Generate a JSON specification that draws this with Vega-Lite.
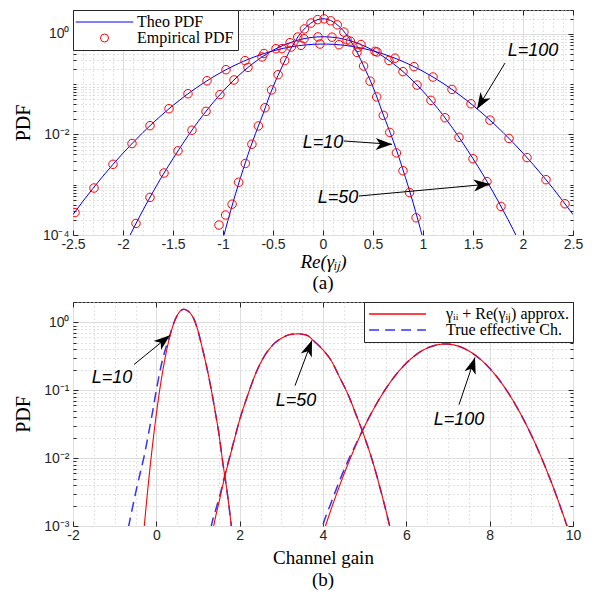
{
"$schema": "https://vega.github.io/schema/vega-lite/v6.json",
"padding": {"left": 12, "top": 2, "right": 0, "bottom": 0},
"bounds": "flush",
"spacing": 67,
"config": {
  "view": {"stroke": "#262626", "strokeWidth": 1},
  "axis": {"domain": false, "labelFont": "Liberation Sans", "labelFontSize": 14, "labelColor": "#262626", "tickColor": "#262626", "tickWidth": 1, "titleColor": "#000000", "titleFontWeight": "normal"}
},
"datasets": {
  "theoA": [
    {"L":100,"x":-2.5,"y":0.000255},{"L":100,"x":-2.4,"y":0.000471},{"L":100,"x":-2.3,"y":0.000847},{"L":100,"x":-2.2,"y":0.001487},{"L":100,"x":-2.1,"y":0.002545},{"L":100,"x":-2.0,"y":0.00425},{"L":100,"x":-1.9,"y":0.00692},{"L":100,"x":-1.8,"y":0.01099},{"L":100,"x":-1.7,"y":0.01702},{"L":100,"x":-1.6,"y":0.02571},{"L":100,"x":-1.5,"y":0.03788},{"L":100,"x":-1.4,"y":0.05443},{"L":100,"x":-1.3,"y":0.0763},{"L":100,"x":-1.2,"y":0.1043},{"L":100,"x":-1.1,"y":0.139},{"L":100,"x":-1.0,"y":0.1807},{"L":100,"x":-0.9,"y":0.2292},{"L":100,"x":-0.8,"y":0.2834},{"L":100,"x":-0.7,"y":0.3419},{"L":100,"x":-0.6,"y":0.4022},{"L":100,"x":-0.5,"y":0.4615},{"L":100,"x":-0.4,"y":0.516},{"L":100,"x":-0.3,"y":0.564},{"L":100,"x":-0.2,"y":0.6},{"L":100,"x":-0.1,"y":0.623},{"L":100,"x":0,"y":0.631},
    {"L":100,"x":0.1,"y":0.623},{"L":100,"x":0.2,"y":0.6},{"L":100,"x":0.3,"y":0.564},{"L":100,"x":0.4,"y":0.516},{"L":100,"x":0.5,"y":0.4615},{"L":100,"x":0.6,"y":0.4022},{"L":100,"x":0.7,"y":0.3419},{"L":100,"x":0.8,"y":0.2834},{"L":100,"x":0.9,"y":0.2292},{"L":100,"x":1.0,"y":0.1807},{"L":100,"x":1.1,"y":0.139},{"L":100,"x":1.2,"y":0.1043},{"L":100,"x":1.3,"y":0.0763},{"L":100,"x":1.4,"y":0.05443},{"L":100,"x":1.5,"y":0.03788},{"L":100,"x":1.6,"y":0.02571},{"L":100,"x":1.7,"y":0.01702},{"L":100,"x":1.8,"y":0.01099},{"L":100,"x":1.9,"y":0.00692},{"L":100,"x":2.0,"y":0.00425},{"L":100,"x":2.1,"y":0.002545},{"L":100,"x":2.2,"y":0.001487},{"L":100,"x":2.3,"y":0.000847},{"L":100,"x":2.4,"y":0.000471},{"L":100,"x":2.5,"y":0.000255},
    {"L":50,"x":-2.0,"y":0.0000515},{"L":50,"x":-1.9,"y":0.00013},{"L":50,"x":-1.8,"y":0.000312},{"L":50,"x":-1.7,"y":0.00072},{"L":50,"x":-1.6,"y":0.001584},{"L":50,"x":-1.5,"y":0.0033},{"L":50,"x":-1.4,"y":0.00668},{"L":50,"x":-1.3,"y":0.01305},{"L":50,"x":-1.2,"y":0.02425},{"L":50,"x":-1.1,"y":0.0429},{"L":50,"x":-1.0,"y":0.0724},{"L":50,"x":-0.9,"y":0.1163},{"L":50,"x":-0.8,"y":0.178},{"L":50,"x":-0.7,"y":0.259},{"L":50,"x":-0.6,"y":0.359},{"L":50,"x":-0.5,"y":0.474},{"L":50,"x":-0.4,"y":0.592},{"L":50,"x":-0.3,"y":0.704},{"L":50,"x":-0.2,"y":0.799},{"L":50,"x":-0.1,"y":0.8595},{"L":50,"x":0,"y":0.881},
    {"L":50,"x":0.1,"y":0.8595},{"L":50,"x":0.2,"y":0.799},{"L":50,"x":0.3,"y":0.704},{"L":50,"x":0.4,"y":0.592},{"L":50,"x":0.5,"y":0.474},{"L":50,"x":0.6,"y":0.359},{"L":50,"x":0.7,"y":0.259},{"L":50,"x":0.8,"y":0.178},{"L":50,"x":0.9,"y":0.1163},{"L":50,"x":1.0,"y":0.0724},{"L":50,"x":1.1,"y":0.0429},{"L":50,"x":1.2,"y":0.02425},{"L":50,"x":1.3,"y":0.01305},{"L":50,"x":1.4,"y":0.00668},{"L":50,"x":1.5,"y":0.0033},{"L":50,"x":1.6,"y":0.001584},{"L":50,"x":1.7,"y":0.00072},{"L":50,"x":1.8,"y":0.000312},{"L":50,"x":1.9,"y":0.00013},{"L":50,"x":2.0,"y":0.0000515},
    {"L":10,"x":-1.05,"y":0.000034},{"L":10,"x":-1.0,"y":0.000084},{"L":10,"x":-0.95,"y":0.000197},{"L":10,"x":-0.9,"y":0.000444},{"L":10,"x":-0.85,"y":0.000957},{"L":10,"x":-0.8,"y":0.00198},{"L":10,"x":-0.75,"y":0.00399},{"L":10,"x":-0.7,"y":0.00767},{"L":10,"x":-0.65,"y":0.01412},{"L":10,"x":-0.6,"y":0.0255},{"L":10,"x":-0.55,"y":0.0486},{"L":10,"x":-0.5,"y":0.0877},{"L":10,"x":-0.45,"y":0.15},{"L":10,"x":-0.4,"y":0.244},{"L":10,"x":-0.35,"y":0.398},{"L":10,"x":-0.3,"y":0.608},{"L":10,"x":-0.25,"y":0.881},{"L":10,"x":-0.2,"y":1.18},{"L":10,"x":-0.15,"y":1.48},{"L":10,"x":-0.1,"y":1.75},{"L":10,"x":-0.05,"y":1.934},{"L":10,"x":0,"y":2.01},
    {"L":10,"x":0.05,"y":1.934},{"L":10,"x":0.1,"y":1.75},{"L":10,"x":0.15,"y":1.48},{"L":10,"x":0.2,"y":1.18},{"L":10,"x":0.25,"y":0.881},{"L":10,"x":0.3,"y":0.608},{"L":10,"x":0.35,"y":0.398},{"L":10,"x":0.4,"y":0.244},{"L":10,"x":0.45,"y":0.15},{"L":10,"x":0.5,"y":0.0877},{"L":10,"x":0.55,"y":0.0486},{"L":10,"x":0.6,"y":0.0255},{"L":10,"x":0.65,"y":0.01412},{"L":10,"x":0.7,"y":0.00767},{"L":10,"x":0.75,"y":0.00399},{"L":10,"x":0.8,"y":0.00198},{"L":10,"x":0.85,"y":0.000957},{"L":10,"x":0.9,"y":0.000444},{"L":10,"x":0.95,"y":0.000197},{"L":10,"x":1.0,"y":0.000084},{"L":10,"x":1.05,"y":0.000034}
  ],
  "empA": [
    {"L":100,"x":-2.48,"y":0.00028},{"L":100,"x":-2.29,"y":0.00086},{"L":100,"x":-2.1,"y":0.00255},{"L":100,"x":-1.91,"y":0.0066},{"L":100,"x":-1.73,"y":0.01497},{"L":100,"x":-1.54,"y":0.03253},{"L":100,"x":-1.35,"y":0.0647},{"L":100,"x":-1.16,"y":0.1173},{"L":100,"x":-0.97,"y":0.1946},{"L":100,"x":-0.78,"y":0.2949},{"L":100,"x":-0.59,"y":0.4083},{"L":100,"x":-0.41,"y":0.5113},{"L":100,"x":-0.22,"y":0.5938},{"L":100,"x":-0.03,"y":0.63},{"L":100,"x":0.16,"y":0.611},{"L":100,"x":0.35,"y":0.541},{"L":100,"x":0.54,"y":0.438},{"L":100,"x":0.72,"y":0.33},{"L":100,"x":0.91,"y":0.224},{"L":100,"x":1.1,"y":0.139},{"L":100,"x":1.29,"y":0.0788},{"L":100,"x":1.48,"y":0.0408},{"L":100,"x":1.67,"y":0.0193},{"L":100,"x":1.86,"y":0.00835},{"L":100,"x":2.04,"y":0.00347},{"L":100,"x":2.23,"y":0.00126},{"L":100,"x":2.42,"y":0.000418},
    {"L":50,"x":-1.87,"y":0.00017},{"L":50,"x":-1.73,"y":0.00056},{"L":50,"x":-1.59,"y":0.00171},{"L":50,"x":-1.45,"y":0.00473},{"L":50,"x":-1.31,"y":0.01217},{"L":50,"x":-1.17,"y":0.02884},{"L":50,"x":-1.03,"y":0.0624},{"L":50,"x":-0.89,"y":0.1214},{"L":50,"x":-0.75,"y":0.2163},{"L":50,"x":-0.61,"y":0.3486},{"L":50,"x":-0.47,"y":0.509},{"L":50,"x":-0.33,"y":0.673},{"L":50,"x":-0.19,"y":0.806},{"L":50,"x":-0.05,"y":0.875},{"L":50,"x":0.09,"y":0.8635},{"L":50,"x":0.24,"y":0.765},{"L":50,"x":0.38,"y":0.616},{"L":50,"x":0.52,"y":0.451},{"L":50,"x":0.66,"y":0.297},{"L":50,"x":0.8,"y":0.178},{"L":50,"x":0.94,"y":0.0962},{"L":50,"x":1.08,"y":0.0478},{"L":50,"x":1.22,"y":0.02156},{"L":50,"x":1.36,"y":0.00879},{"L":50,"x":1.5,"y":0.00329},{"L":50,"x":1.64,"y":0.001155},{"L":50,"x":1.78,"y":0.00037},
    {"L":10,"x":-1.04,"y":0.000158},{"L":10,"x":-0.974,"y":0.00025},{"L":10,"x":-0.909,"y":0.00041},{"L":10,"x":-0.843,"y":0.00112},{"L":10,"x":-0.777,"y":0.00265},{"L":10,"x":-0.711,"y":0.0064},{"L":10,"x":-0.646,"y":0.0148},{"L":10,"x":-0.58,"y":0.034},{"L":10,"x":-0.514,"y":0.077},{"L":10,"x":-0.449,"y":0.155},{"L":10,"x":-0.383,"y":0.295},{"L":10,"x":-0.317,"y":0.55},{"L":10,"x":-0.252,"y":0.87},{"L":10,"x":-0.186,"y":1.26},{"L":10,"x":-0.12,"y":1.65},{"L":10,"x":-0.054,"y":1.93},{"L":10,"x":0.011,"y":2.0},{"L":10,"x":0.077,"y":1.83},{"L":10,"x":0.143,"y":1.52},{"L":10,"x":0.209,"y":1.09},{"L":10,"x":0.274,"y":0.72},{"L":10,"x":0.34,"y":0.43},{"L":10,"x":0.406,"y":0.23},{"L":10,"x":0.471,"y":0.115},{"L":10,"x":0.537,"y":0.056},{"L":10,"x":0.603,"y":0.024},{"L":10,"x":0.668,"y":0.011},{"L":10,"x":0.734,"y":0.0043},{"L":10,"x":0.8,"y":0.0019},{"L":10,"x":0.865,"y":0.0007},{"L":10,"x":0.931,"y":0.00022}
  ],
  "annoA": [
    {"label":"L=100","tx":2.1,"ty":0.458,"x1":1.82,"y1":0.264,"x2":1.54,"y2":0.0321},
    {"label":"L=10","tx":0.0,"ty":0.0068,"x1":0.207,"y1":0.00743,"x2":0.69,"y2":0.00638},
    {"label":"L=50","tx":0.15,"ty":0.000544,"x1":0.36,"y1":0.000597,"x2":1.67,"y2":0.001035}
  ],
  "redB": [
    {"L":10,"x":-0.35,"y":0.000378},{"L":10,"x":-0.3,"y":0.000843},{"L":10,"x":-0.2,"y":0.00372},{"L":10,"x":-0.1,"y":0.01397},{"L":10,"x":0.0,"y":0.0446},{"L":10,"x":0.1,"y":0.1206},{"L":10,"x":0.2,"y":0.277},{"L":10,"x":0.3,"y":0.542},{"L":10,"x":0.4,"y":0.898},{"L":10,"x":0.5,"y":1.265},{"L":10,"x":0.6,"y":1.514},{"L":10,"x":0.66,"y":1.56},{"L":10,"x":0.7,"y":1.545},{"L":10,"x":0.8,"y":1.4},{"L":10,"x":0.9,"y":1.126},{"L":10,"x":1.0,"y":0.75},{"L":10,"x":1.1,"y":0.427},{"L":10,"x":1.2,"y":0.234},{"L":10,"x":1.3,"y":0.1175},{"L":10,"x":1.4,"y":0.0537},{"L":10,"x":1.5,"y":0.0232},{"L":10,"x":1.6,"y":0.0082},{"L":10,"x":1.7,"y":0.00316},{"L":10,"x":1.8,"y":0.001},{"L":10,"x":1.85,"y":0.00052},
    {"L":50,"x":1.3,"y":0.0005},{"L":50,"x":1.377,"y":0.001},{"L":50,"x":1.5,"y":0.00219},{"L":50,"x":1.64,"y":0.00525},{"L":50,"x":1.8,"y":0.0126},{"L":50,"x":2.0,"y":0.0367},{"L":50,"x":2.2,"y":0.0871},{"L":50,"x":2.4,"y":0.186},{"L":50,"x":2.6,"y":0.3236},{"L":50,"x":2.8,"y":0.4677},{"L":50,"x":3.0,"y":0.582},{"L":50,"x":3.2,"y":0.661},{"L":50,"x":3.4,"y":0.679},{"L":50,"x":3.6,"y":0.653},{"L":50,"x":3.8,"y":0.519},{"L":50,"x":4.0,"y":0.394},{"L":50,"x":4.2,"y":0.272},{"L":50,"x":4.4,"y":0.155},{"L":50,"x":4.6,"y":0.087},{"L":50,"x":4.8,"y":0.0427},{"L":50,"x":5.0,"y":0.0202},{"L":50,"x":5.2,"y":0.00857},{"L":50,"x":5.4,"y":0.00309},{"L":50,"x":5.6,"y":0.001},{"L":50,"x":5.7,"y":0.00054},
    {"L":100,"x":3.9,"y":0.000493},{"L":100,"x":4.0,"y":0.000771},{"L":100,"x":4.2,"y":0.0018},{"L":100,"x":4.4,"y":0.00396},{"L":100,"x":4.6,"y":0.0082},{"L":100,"x":4.8,"y":0.01603},{"L":100,"x":5.0,"y":0.02944},{"L":100,"x":5.2,"y":0.05098},{"L":100,"x":5.4,"y":0.0832},{"L":100,"x":5.6,"y":0.1276},{"L":100,"x":5.8,"y":0.1845},{"L":100,"x":6.0,"y":0.2513},{"L":100,"x":6.2,"y":0.3224},{"L":100,"x":6.4,"y":0.3895},{"L":100,"x":6.6,"y":0.443},{"L":100,"x":6.8,"y":0.4747},{"L":100,"x":6.93,"y":0.4808},{"L":100,"x":7.0,"y":0.4792},{"L":100,"x":7.2,"y":0.4562},{"L":100,"x":7.4,"y":0.4101},{"L":100,"x":7.6,"y":0.3477},{"L":100,"x":7.8,"y":0.2785},{"L":100,"x":8.0,"y":0.2106},{"L":100,"x":8.2,"y":0.1502},{"L":100,"x":8.4,"y":0.1012},{"L":100,"x":8.6,"y":0.0643},{"L":100,"x":8.8,"y":0.0386},{"L":100,"x":9.0,"y":0.02185},{"L":100,"x":9.2,"y":0.01168},{"L":100,"x":9.4,"y":0.0059},{"L":100,"x":9.6,"y":0.00281},{"L":100,"x":9.8,"y":0.001263},{"L":100,"x":9.9,"y":0.000829},{"L":100,"x":10.0,"y":0.000536}
  ],
  "blueB": [
    {"L":10,"x":-0.75,"y":0.00056},{"L":10,"x":-0.664,"y":0.001},{"L":10,"x":-0.6,"y":0.00155},{"L":10,"x":-0.5,"y":0.003},{"L":10,"x":-0.4,"y":0.0056},{"L":10,"x":-0.3,"y":0.0102},{"L":10,"x":-0.2,"y":0.0209},{"L":10,"x":-0.1,"y":0.0447},{"L":10,"x":0.0,"y":0.1},{"L":10,"x":0.1,"y":0.209},{"L":10,"x":0.2,"y":0.37},{"L":10,"x":0.3,"y":0.575},{"L":10,"x":0.4,"y":0.91},{"L":10,"x":0.5,"y":1.27},{"L":10,"x":0.6,"y":1.514},{"L":10,"x":0.66,"y":1.56},{"L":10,"x":0.7,"y":1.545},{"L":10,"x":0.8,"y":1.4},{"L":10,"x":0.9,"y":1.126},{"L":10,"x":1.0,"y":0.75},{"L":10,"x":1.1,"y":0.427},{"L":10,"x":1.2,"y":0.234},{"L":10,"x":1.3,"y":0.1175},{"L":10,"x":1.4,"y":0.0537},{"L":10,"x":1.5,"y":0.0232},{"L":10,"x":1.6,"y":0.0082},{"L":10,"x":1.7,"y":0.00316},{"L":10,"x":1.8,"y":0.001},{"L":10,"x":1.85,"y":0.00052},
    {"L":50,"x":1.25,"y":0.00056},{"L":50,"x":1.32,"y":0.001},{"L":50,"x":1.45,"y":0.00195},{"L":50,"x":1.536,"y":0.003},{"L":50,"x":1.64,"y":0.0055},{"L":50,"x":1.8,"y":0.0129},{"L":50,"x":2.0,"y":0.0367},{"L":50,"x":2.2,"y":0.0871},{"L":50,"x":2.4,"y":0.186},{"L":50,"x":2.6,"y":0.3236},{"L":50,"x":2.8,"y":0.4677},{"L":50,"x":3.0,"y":0.582},{"L":50,"x":3.2,"y":0.661},{"L":50,"x":3.4,"y":0.679},{"L":50,"x":3.6,"y":0.653},{"L":50,"x":3.8,"y":0.519},{"L":50,"x":4.0,"y":0.394},{"L":50,"x":4.2,"y":0.272},{"L":50,"x":4.4,"y":0.155},{"L":50,"x":4.6,"y":0.087},{"L":50,"x":4.8,"y":0.0427},{"L":50,"x":5.0,"y":0.0202},{"L":50,"x":5.2,"y":0.00857},{"L":50,"x":5.4,"y":0.00309},{"L":50,"x":5.6,"y":0.001},{"L":50,"x":5.7,"y":0.00054},
    {"L":100,"x":3.9,"y":0.00063},{"L":100,"x":4.0,"y":0.00105},{"L":100,"x":4.2,"y":0.00224},{"L":100,"x":4.4,"y":0.00468},{"L":100,"x":4.6,"y":0.0091},{"L":100,"x":4.8,"y":0.0166},{"L":100,"x":5.0,"y":0.0299},{"L":100,"x":5.2,"y":0.05098},{"L":100,"x":5.4,"y":0.0832},{"L":100,"x":5.6,"y":0.1276},{"L":100,"x":5.8,"y":0.1845},{"L":100,"x":6.0,"y":0.2513},{"L":100,"x":6.2,"y":0.3224},{"L":100,"x":6.4,"y":0.3895},{"L":100,"x":6.6,"y":0.443},{"L":100,"x":6.8,"y":0.4747},{"L":100,"x":6.93,"y":0.4808},{"L":100,"x":7.0,"y":0.4792},{"L":100,"x":7.2,"y":0.4562},{"L":100,"x":7.4,"y":0.4101},{"L":100,"x":7.6,"y":0.3477},{"L":100,"x":7.8,"y":0.2785},{"L":100,"x":8.0,"y":0.2106},{"L":100,"x":8.2,"y":0.1502},{"L":100,"x":8.4,"y":0.1012},{"L":100,"x":8.6,"y":0.0643},{"L":100,"x":8.8,"y":0.0386},{"L":100,"x":9.0,"y":0.02185},{"L":100,"x":9.2,"y":0.01168},{"L":100,"x":9.4,"y":0.0059},{"L":100,"x":9.6,"y":0.00281},{"L":100,"x":9.8,"y":0.001263},{"L":100,"x":9.9,"y":0.000829},{"L":100,"x":10.0,"y":0.000536}
  ],
  "annoB": [
    {"label":"L=10","tx":-1.064,"ty":0.154,"x1":-0.536,"y1":0.24,"x2":0.328,"y2":0.647},
    {"label":"L=50","tx":3.352,"ty":0.0703,"x1":3.328,"y1":0.117,"x2":3.736,"y2":0.546},
    {"label":"L=100","tx":7.264,"ty":0.0367,"x1":7.264,"y1":0.0614,"x2":7.648,"y2":0.305}
  ]
},
"vconcat": [
  {
    "width": 500, "height": 225,
    "title": {"text": "(a)", "orient": "bottom", "font": "Liberation Serif", "fontSize": 19, "fontWeight": "normal", "color": "#000000", "offset": 3, "anchor": "middle"},
    "resolve": {"axis": {"x": "independent", "y": "independent"}},
    "layer": [
      {
        "data": {"name": "theoA"},
        "mark": {"type": "line", "clip": true, "strokeWidth": 1, "interpolate": "monotone"},
        "encoding": {
          "x": {"field": "x", "type": "quantitative", "scale": {"domain": [-2.5, 2.5], "nice": false, "zero": false},
            "axis": {"orient": "bottom", "values": [-2.5,-2.4,-2.3,-2.2,-2.1,-2,-1.9,-1.8,-1.7,-1.6,-1.5,-1.4,-1.3,-1.2,-1.1,-1,-0.9,-0.8,-0.7,-0.6,-0.5,-0.4,-0.3,-0.2,-0.1,0,0.1,0.2,0.3,0.4,0.5,0.6,0.7,0.8,0.9,1,1.1,1.2,1.3,1.4,1.5,1.6,1.7,1.8,1.9,2,2.1,2.2,2.3,2.4,2.5],
              "labelExpr": "abs(datum.value*2-round(datum.value*2))<0.001 ? ''+datum.value : ''",
              "labelFlush": false, "labelOverlap": false, "tickSize": -5, "labelPadding": 7,
              "tickOpacity": {"condition": {"test": "abs(datum.value*2-round(datum.value*2))>0.001", "value": 0}, "value": 1},
              "grid": true,
              "gridColor": {"condition": {"test": "abs(datum.value*2-round(datum.value*2))>0.001", "value": "#c4c4c4"}, "value": "#dedede"},
              "gridDash": {"condition": {"test": "abs(datum.value*2-round(datum.value*2))>0.001", "value": [1, 3]}, "value": []},
              "title": "Re(γᵢⱼ)", "titleFont": "Liberation Serif", "titleFontStyle": "italic", "titleFontSize": 19, "titlePadding": 1}},
          "y": {"field": "y", "type": "quantitative", "scale": {"type": "log", "domain": [0.0001, 3], "nice": false},
            "axis": {"orient": "left", "values": [0.0001,0.0002,0.0003,0.0004,0.0005,0.0006,0.0007,0.0008,0.0009,0.001,0.002,0.003,0.004,0.005,0.006,0.007,0.008,0.009,0.01,0.02,0.03,0.04,0.05,0.06,0.07,0.08,0.09,0.1,0.2,0.3,0.4,0.5,0.6,0.7,0.8,0.9,1,2,3],
              "labelExpr": "datum.value==1 ? '10⁰' : datum.value==0.01 ? '10⁻²' : datum.value==0.0001 ? '10⁻⁴' : ''",
              "labelFlush": false, "labelOverlap": false, "labelPadding": 9,
              "tickSize": {"condition": {"test": "datum.value==1||datum.value==0.01||datum.value==0.0001", "value": -5}, "value": -3},
              "grid": true,
              "gridColor": {"condition": {"test": "datum.value==1||datum.value==0.01||datum.value==0.0001", "value": "#dedede"}, "value": "#c4c4c4"},
              "gridDash": {"condition": {"test": "datum.value==1||datum.value==0.01||datum.value==0.0001", "value": []}, "value": [1, 3]},
              "title": "PDF", "titleFont": "Liberation Serif", "titleFontSize": 20, "titleX": -50, "titleY": 112.5, "titleAngle": -90, "titleBaseline": "middle", "titleAlign": "center"}},
          "detail": {"field": "L"},
          "color": {"datum": "Theo PDF", "type": "nominal", "scale": {"domain": ["Theo PDF", "Empirical PDF"], "range": ["#0000ff", "#ff0000"]},
            "legend": {"title": null, "orient": "top-left", "offset": 0, "padding": 4, "strokeColor": "#262626", "fillColor": "#ffffff", "labelFont": "Liberation Serif", "labelFontSize": 16, "labelColor": "#000000", "symbolSize": 64, "symbolOffset": 19.5, "labelOffset": 24.5, "rowPadding": 0, "symbolStrokeWidth": 1}}
        }
      },
      {
        "data": {"name": "empA"},
        "mark": {"type": "point", "filled": false, "size": 72, "strokeWidth": 1, "opacity": 1, "clip": true},
        "encoding": {
          "x": {"field": "x", "type": "quantitative", "scale": {"domain": [-2.5, 2.5], "nice": false, "zero": false}, "axis": null},
          "y": {"field": "y", "type": "quantitative", "scale": {"type": "log", "domain": [0.0001, 3], "nice": false}, "axis": null},
          "color": {"datum": "Empirical PDF", "type": "nominal", "scale": {"domain": ["Theo PDF", "Empirical PDF"], "range": ["#0000ff", "#ff0000"]},
            "legend": {"title": null, "orient": "top-left", "offset": 0, "padding": 4, "strokeColor": "#262626", "fillColor": "#ffffff", "labelFont": "Liberation Serif", "labelFontSize": 16, "labelColor": "#000000", "symbolSize": 64, "symbolOffset": 19.5, "labelOffset": 24.5, "rowPadding": 0, "symbolStrokeWidth": 1}},
          "shape": {"datum": "Empirical PDF", "type": "nominal", "scale": {"domain": ["Theo PDF", "Empirical PDF"], "range": ["M-7.2,0H7.2", "circle"]},
            "legend": {"title": null, "orient": "top-left", "offset": 0, "padding": 4, "strokeColor": "#262626", "fillColor": "#ffffff", "labelFont": "Liberation Serif", "labelFontSize": 16, "labelColor": "#000000", "symbolSize": 64, "symbolOffset": 19.5, "labelOffset": 24.5, "rowPadding": 0, "symbolStrokeWidth": 1}}
        }
      },
      {
        "data": {"name": "annoA"},
        "mark": {"type": "point", "opacity": 0},
        "encoding": {
          "x": {"field": "x2", "type": "quantitative", "scale": {"domain": [-2.5, 2.5], "nice": false, "zero": false},
            "axis": {"orient": "top", "values": [-2.5,-2,-1.5,-1,-0.5,0,0.5,1,1.5,2,2.5], "labels": false, "grid": false, "tickSize": -5, "title": null}},
          "y": {"field": "y2", "type": "quantitative", "scale": {"type": "log", "domain": [0.0001, 3], "nice": false},
            "axis": {"orient": "right", "values": [0.0001,0.0002,0.0003,0.0004,0.0005,0.0006,0.0007,0.0008,0.0009,0.001,0.002,0.003,0.004,0.005,0.006,0.007,0.008,0.009,0.01,0.02,0.03,0.04,0.05,0.06,0.07,0.08,0.09,0.1,0.2,0.3,0.4,0.5,0.6,0.7,0.8,0.9,1,2,3], "labels": false, "grid": false,
              "tickSize": {"condition": {"test": "datum.value==1||datum.value==0.01||datum.value==0.0001", "value": -5}, "value": -3}, "title": null}}
        }
      },
      {
        "data": {"name": "annoA"},
        "mark": {"type": "rule", "color": "#000000", "strokeWidth": 1},
        "encoding": {
          "x": {"field": "x1", "type": "quantitative", "scale": {"domain": [-2.5, 2.5], "nice": false, "zero": false}, "axis": null},
          "y": {"field": "y1", "type": "quantitative", "scale": {"type": "log", "domain": [0.0001, 3], "nice": false}, "axis": null},
          "x2": {"field": "x2"}, "y2": {"field": "y2"}
        }
      },
      {
        "data": {"name": "annoA"}, "transform": [{"filter": "datum.label === 'L=100'"}],
        "mark": {"type": "point", "shape": "M0,0L0.8,2.2L0,1.6L-0.8,2.2Z", "filled": true, "color": "#000000", "opacity": 1, "size": 220, "angle": 211.3},
        "encoding": {
          "x": {"field": "x2", "type": "quantitative", "scale": {"domain": [-2.5, 2.5], "nice": false, "zero": false}, "axis": null},
          "y": {"field": "y2", "type": "quantitative", "scale": {"type": "log", "domain": [0.0001, 3], "nice": false}, "axis": null}
        }
      },
      {
        "data": {"name": "annoA"}, "transform": [{"filter": "datum.label === 'L=10'"}],
        "mark": {"type": "point", "shape": "M0,0L0.8,2.2L0,1.6L-0.8,2.2Z", "filled": true, "color": "#000000", "opacity": 1, "size": 220, "angle": 91.2},
        "encoding": {
          "x": {"field": "x2", "type": "quantitative", "scale": {"domain": [-2.5, 2.5], "nice": false, "zero": false}, "axis": null},
          "y": {"field": "y2", "type": "quantitative", "scale": {"type": "log", "domain": [0.0001, 3], "nice": false}, "axis": null}
        }
      },
      {
        "data": {"name": "annoA"}, "transform": [{"filter": "datum.label === 'L=50'"}],
        "mark": {"type": "point", "shape": "M0,0L0.8,2.2L0,1.6L-0.8,2.2Z", "filled": true, "color": "#000000", "opacity": 1, "size": 220, "angle": 84.8},
        "encoding": {
          "x": {"field": "x2", "type": "quantitative", "scale": {"domain": [-2.5, 2.5], "nice": false, "zero": false}, "axis": null},
          "y": {"field": "y2", "type": "quantitative", "scale": {"type": "log", "domain": [0.0001, 3], "nice": false}, "axis": null}
        }
      },
      {
        "data": {"name": "annoA"},
        "mark": {"type": "text", "font": "Liberation Sans", "fontSize": 18, "fontStyle": "italic", "color": "#000000", "align": "center", "baseline": "middle"},
        "encoding": {
          "x": {"field": "tx", "type": "quantitative", "scale": {"domain": [-2.5, 2.5], "nice": false, "zero": false}, "axis": null},
          "y": {"field": "ty", "type": "quantitative", "scale": {"type": "log", "domain": [0.0001, 3], "nice": false}, "axis": null},
          "text": {"field": "label"}
        }
      }
    ]
  },
  {
    "width": 500, "height": 224,
    "title": {"text": "(b)", "orient": "bottom", "font": "Liberation Serif", "fontSize": 19, "fontWeight": "normal", "color": "#000000", "offset": 4, "anchor": "middle"},
    "resolve": {"axis": {"x": "independent", "y": "independent"}},
    "layer": [
      {
        "data": {"name": "blueB"},
        "mark": {"type": "line", "clip": true, "strokeWidth": 1.5, "interpolate": "monotone"},
        "encoding": {
          "x": {"field": "x", "type": "quantitative", "scale": {"domain": [-2, 10], "nice": false, "zero": false},
            "axis": {"orient": "bottom", "values": [-2,-1.5,-1,-0.5,0,0.5,1,1.5,2,2.5,3,3.5,4,4.5,5,5.5,6,6.5,7,7.5,8,8.5,9,9.5,10],
              "labelExpr": "datum.value % 2 == 0 ? ''+datum.value : ''",
              "labelFlush": false, "labelOverlap": false, "tickSize": -5, "labelPadding": 7,
              "tickOpacity": {"condition": {"test": "datum.value % 2 != 0", "value": 0}, "value": 1},
              "grid": true,
              "gridColor": {"condition": {"test": "datum.value % 2 != 0", "value": "#c4c4c4"}, "value": "#dedede"},
              "gridDash": {"condition": {"test": "datum.value % 2 != 0", "value": [1, 3]}, "value": []},
              "title": "Channel gain", "titleFont": "Liberation Serif", "titleFontSize": 19, "titlePadding": 6}},
          "y": {"field": "y", "type": "quantitative", "scale": {"type": "log", "domain": [0.001, 2], "nice": false},
            "axis": {"orient": "left", "values": [0.001,0.002,0.003,0.004,0.005,0.006,0.007,0.008,0.009,0.01,0.02,0.03,0.04,0.05,0.06,0.07,0.08,0.09,0.1,0.2,0.3,0.4,0.5,0.6,0.7,0.8,0.9,1,2],
              "labelExpr": "datum.value==1 ? '10⁰' : datum.value==0.1 ? '10⁻¹' : datum.value==0.01 ? '10⁻²' : datum.value==0.001 ? '10⁻³' : ''",
              "labelFlush": false, "labelOverlap": false, "labelPadding": 9,
              "tickSize": {"condition": {"test": "datum.value==1||datum.value==0.1||datum.value==0.01||datum.value==0.001", "value": -5}, "value": -3},
              "grid": true,
              "gridColor": {"condition": {"test": "datum.value==1||datum.value==0.1||datum.value==0.01||datum.value==0.001", "value": "#dedede"}, "value": "#c4c4c4"},
              "gridDash": {"condition": {"test": "datum.value==1||datum.value==0.1||datum.value==0.01||datum.value==0.001", "value": []}, "value": [1, 3]},
              "title": "PDF", "titleFont": "Liberation Serif", "titleFontSize": 20, "titleX": -50, "titleY": 112, "titleAngle": -90, "titleBaseline": "middle", "titleAlign": "center"}},
          "detail": {"field": "L"},
          "color": {"datum": "True effective Ch.", "type": "nominal", "scale": {"domain": ["γᵢᵢ + Re(γᵢⱼ) approx.", "True effective Ch."], "range": ["#ff0000", "#3333ff"]},
            "legend": {"title": null, "orient": "top-right", "offset": 0, "padding": 4, "strokeColor": "#262626", "fillColor": "#ffffff", "labelFont": "Liberation Serif", "labelFontSize": 16, "labelColor": "#000000", "symbolType": "M-7.1,0H7.1", "symbolSize": 64, "symbolOffset": 21.5, "labelOffset": 40.5, "rowPadding": 0, "symbolStrokeWidth": 1.3}},
          "strokeDash": {"datum": "True effective Ch.", "type": "nominal", "scale": {"domain": ["γᵢᵢ + Re(γᵢⱼ) approx.", "True effective Ch."], "range": [[1, 0], [10, 6]]},
            "legend": {"title": null, "orient": "top-right", "offset": 0, "padding": 4, "strokeColor": "#262626", "fillColor": "#ffffff", "labelFont": "Liberation Serif", "labelFontSize": 16, "labelColor": "#000000", "symbolType": "M-7.1,0H7.1", "symbolSize": 64, "symbolOffset": 21.5, "labelOffset": 40.5, "rowPadding": 0, "symbolStrokeWidth": 1.3}}
        }
      },
      {
        "data": {"name": "redB"},
        "mark": {"type": "line", "clip": true, "strokeWidth": 1.1, "interpolate": "monotone"},
        "encoding": {
          "x": {"field": "x", "type": "quantitative", "scale": {"domain": [-2, 10], "nice": false, "zero": false}, "axis": null},
          "y": {"field": "y", "type": "quantitative", "scale": {"type": "log", "domain": [0.001, 2], "nice": false}, "axis": null},
          "detail": {"field": "L"},
          "color": {"datum": "γᵢᵢ + Re(γᵢⱼ) approx.", "type": "nominal", "scale": {"domain": ["γᵢᵢ + Re(γᵢⱼ) approx.", "True effective Ch."], "range": ["#ff0000", "#3333ff"]}},
          "strokeDash": {"datum": "γᵢᵢ + Re(γᵢⱼ) approx.", "type": "nominal", "scale": {"domain": ["γᵢᵢ + Re(γᵢⱼ) approx.", "True effective Ch."], "range": [[1, 0], [10, 6]]}}
        }
      },
      {
        "data": {"name": "annoB"},
        "mark": {"type": "point", "opacity": 0},
        "encoding": {
          "x": {"field": "x2", "type": "quantitative", "scale": {"domain": [-2, 10], "nice": false, "zero": false},
            "axis": {"orient": "top", "values": [-2,0,2,4,6,8,10], "labels": false, "grid": false, "tickSize": -5, "title": null}},
          "y": {"field": "y2", "type": "quantitative", "scale": {"type": "log", "domain": [0.001, 2], "nice": false},
            "axis": {"orient": "right", "values": [0.001,0.002,0.003,0.004,0.005,0.006,0.007,0.008,0.009,0.01,0.02,0.03,0.04,0.05,0.06,0.07,0.08,0.09,0.1,0.2,0.3,0.4,0.5,0.6,0.7,0.8,0.9,1,2], "labels": false, "grid": false,
              "tickSize": {"condition": {"test": "datum.value==1||datum.value==0.1||datum.value==0.01||datum.value==0.001", "value": -5}, "value": -3}, "title": null}}
        }
      },
      {
        "data": {"name": "annoB"},
        "mark": {"type": "rule", "color": "#000000", "strokeWidth": 1},
        "encoding": {
          "x": {"field": "x1", "type": "quantitative", "scale": {"domain": [-2, 10], "nice": false, "zero": false}, "axis": null},
          "y": {"field": "y1", "type": "quantitative", "scale": {"type": "log", "domain": [0.001, 2], "nice": false}, "axis": null},
          "x2": {"field": "x2"}, "y2": {"field": "y2"}
        }
      },
      {
        "data": {"name": "annoB"}, "transform": [{"filter": "datum.label === 'L=10'"}],
        "mark": {"type": "point", "shape": "M0,0L0.8,2.2L0,1.6L-0.8,2.2Z", "filled": true, "color": "#000000", "opacity": 1, "size": 220, "angle": 51.1},
        "encoding": {
          "x": {"field": "x2", "type": "quantitative", "scale": {"domain": [-2, 10], "nice": false, "zero": false}, "axis": null},
          "y": {"field": "y2", "type": "quantitative", "scale": {"type": "log", "domain": [0.001, 2], "nice": false}, "axis": null}
        }
      },
      {
        "data": {"name": "annoB"}, "transform": [{"filter": "datum.label === 'L=50'"}],
        "mark": {"type": "point", "shape": "M0,0L0.8,2.2L0,1.6L-0.8,2.2Z", "filled": true, "color": "#000000", "opacity": 1, "size": 220, "angle": 20.7},
        "encoding": {
          "x": {"field": "x2", "type": "quantitative", "scale": {"domain": [-2, 10], "nice": false, "zero": false}, "axis": null},
          "y": {"field": "y2", "type": "quantitative", "scale": {"type": "log", "domain": [0.001, 2], "nice": false}, "axis": null}
        }
      },
      {
        "data": {"name": "annoB"}, "transform": [{"filter": "datum.label === 'L=100'"}],
        "mark": {"type": "point", "shape": "M0,0L0.8,2.2L0,1.6L-0.8,2.2Z", "filled": true, "color": "#000000", "opacity": 1, "size": 220, "angle": 17.7},
        "encoding": {
          "x": {"field": "x2", "type": "quantitative", "scale": {"domain": [-2, 10], "nice": false, "zero": false}, "axis": null},
          "y": {"field": "y2", "type": "quantitative", "scale": {"type": "log", "domain": [0.001, 2], "nice": false}, "axis": null}
        }
      },
      {
        "data": {"name": "annoB"},
        "mark": {"type": "text", "font": "Liberation Sans", "fontSize": 18, "fontStyle": "italic", "color": "#000000", "align": "center", "baseline": "middle"},
        "encoding": {
          "x": {"field": "tx", "type": "quantitative", "scale": {"domain": [-2, 10], "nice": false, "zero": false}, "axis": null},
          "y": {"field": "ty", "type": "quantitative", "scale": {"type": "log", "domain": [0.001, 2], "nice": false}, "axis": null},
          "text": {"field": "label"}
        }
      }
    ]
  }
],
"resolve": {"scale": {"color": "independent", "shape": "independent", "strokeDash": "independent"}, "legend": {"color": "independent", "shape": "independent", "strokeDash": "independent"}}
}
